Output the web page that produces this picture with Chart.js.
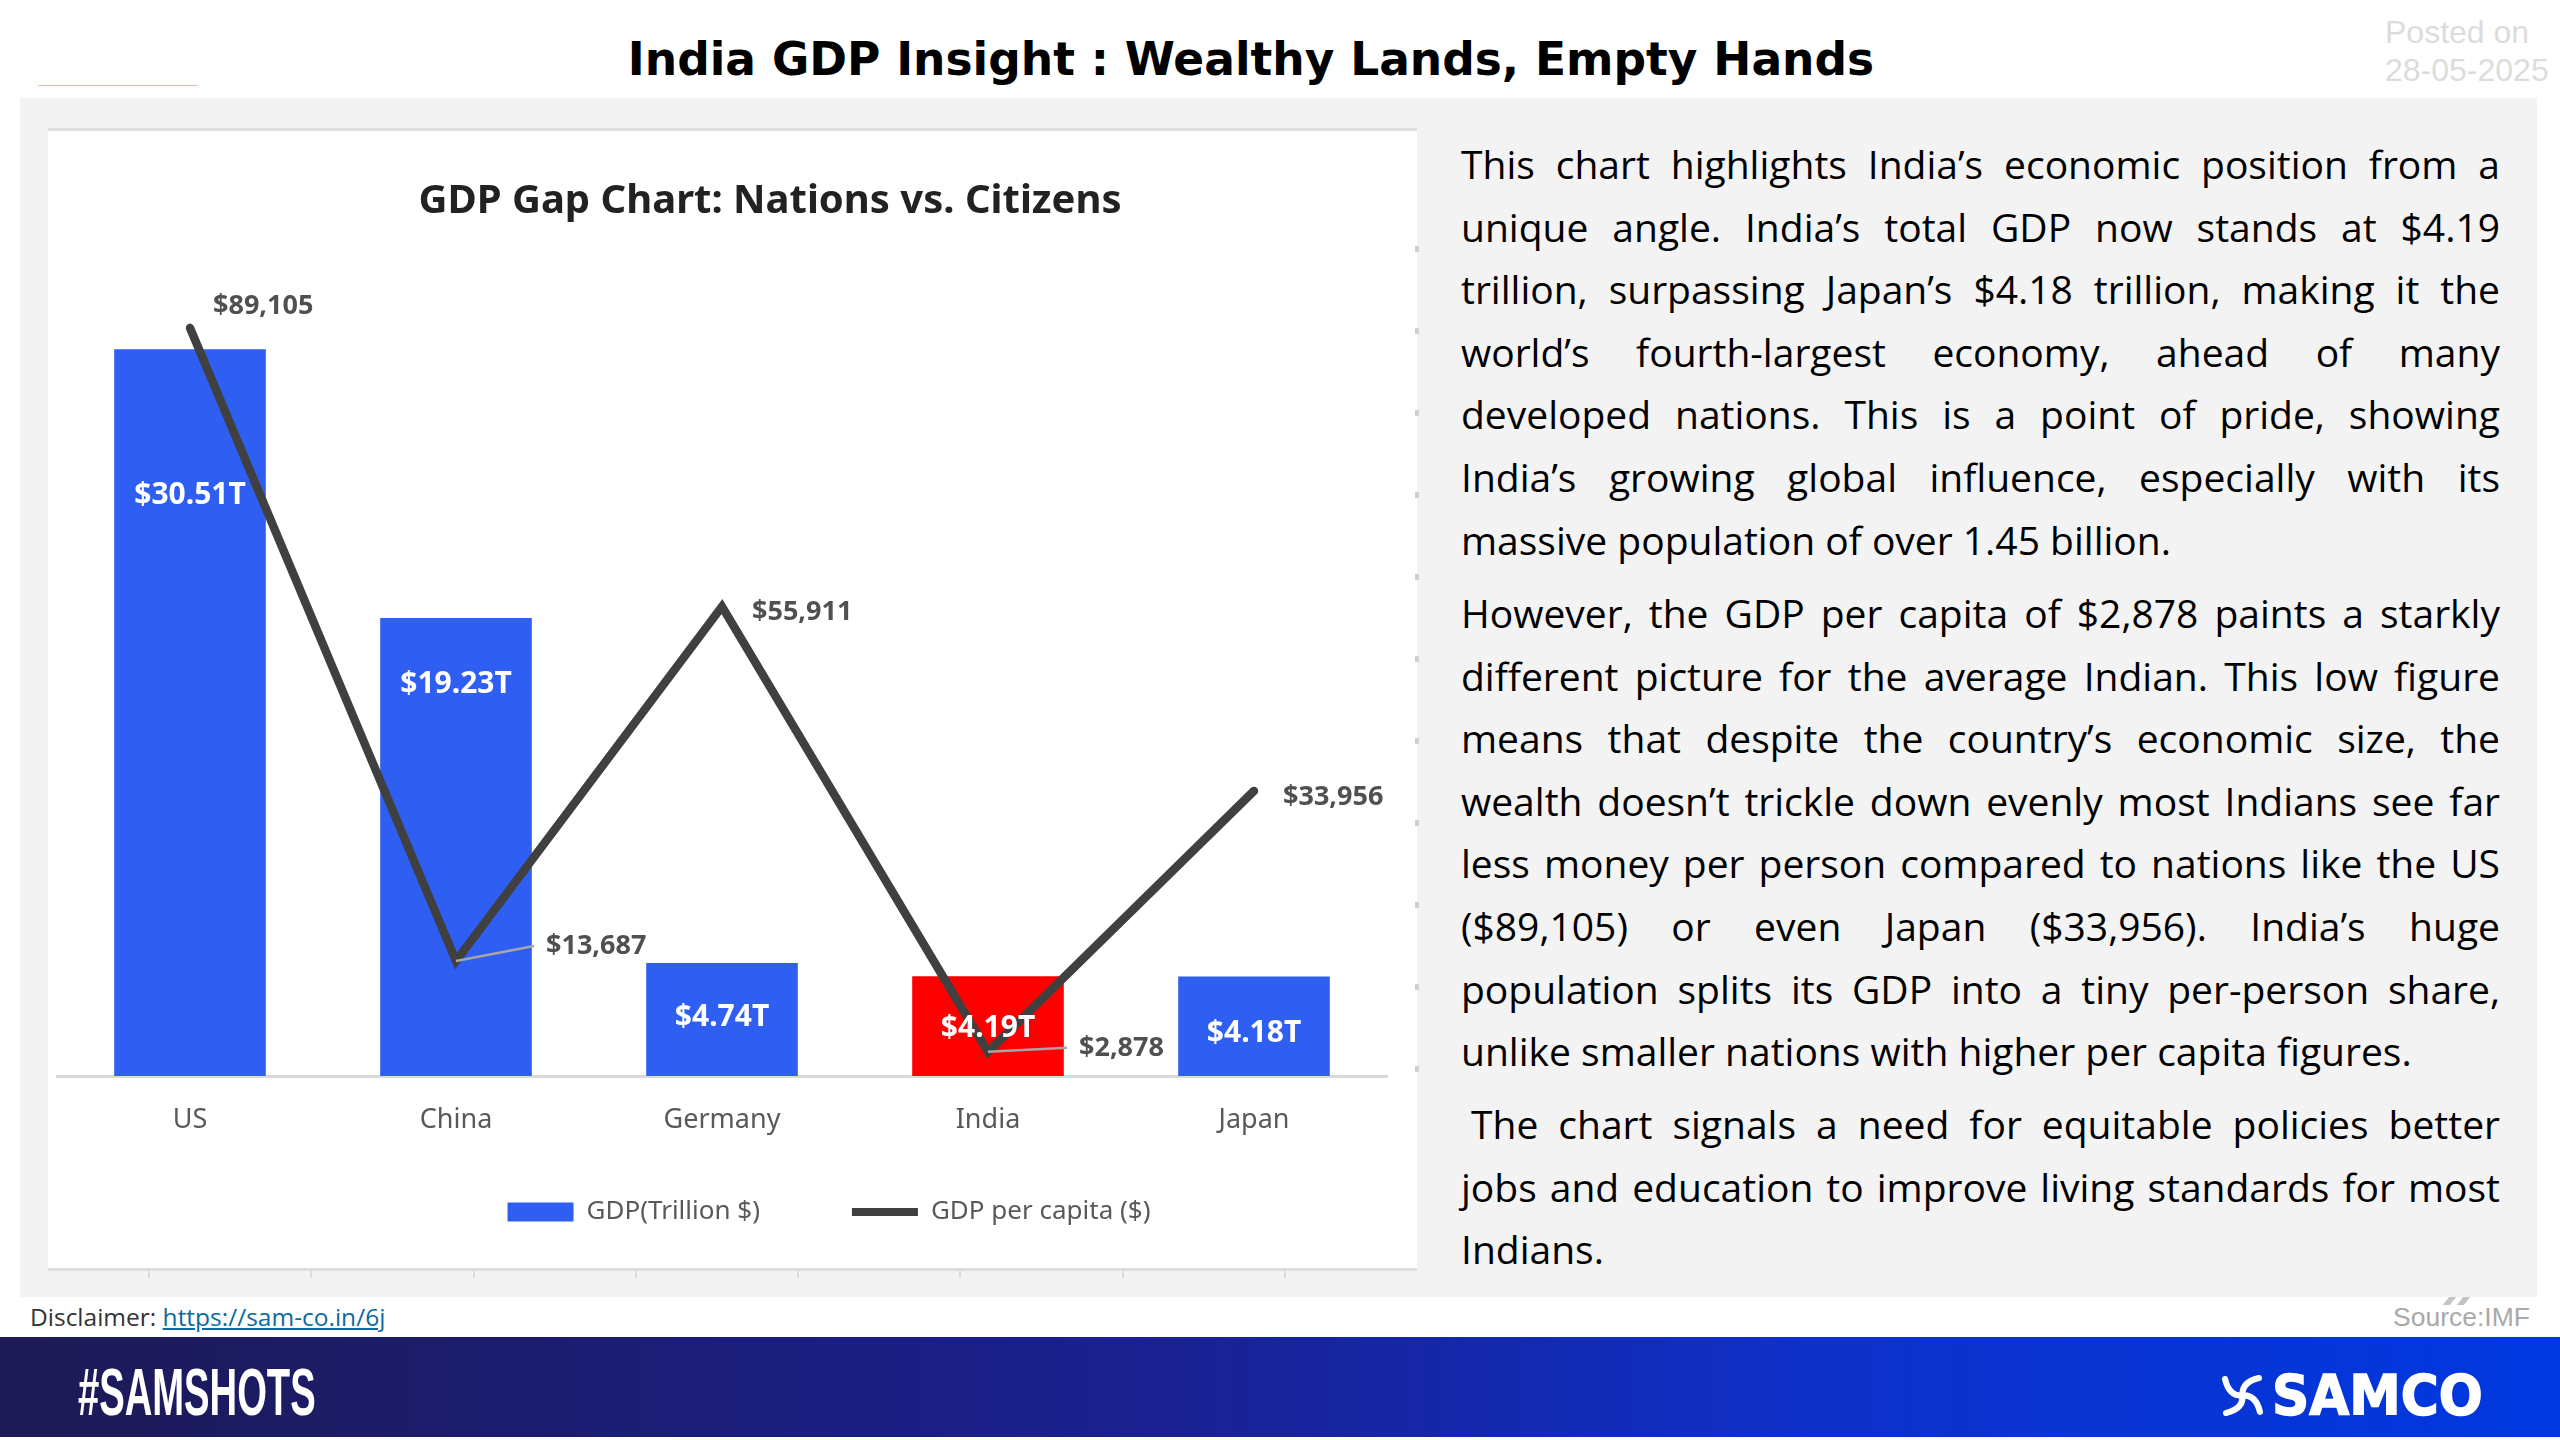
<!DOCTYPE html>
<html>
<head>
<meta charset="utf-8">
<title>India GDP Insight</title>
<script src="https://cdn.jsdelivr.net/npm/chart.js@4"></script>
<style>
    html, body { margin: 0; padding: 0; background: #fff; }
    #page { position: relative; width: 2560px; height: 1440px; overflow: hidden; font-family: "Liberation Sans", sans-serif; }
    #page > * { position: absolute; }
    #headline { left: 0; width: 2502px; top: 30px; text-align: center; font: bold 45.5px/60px "DejaVu Sans", sans-serif; color: #000; }
    #redline { left: 38px; top: 85px; width: 160px; height: 1px; background: #f6b5a8; }
    #posted { left: 2385px; top: 13px; font-size: 32px; line-height: 38px; color: #dcdcdc; white-space: nowrap; }
    #panel { left: 20px; top: 98px; width: 2517px; height: 1199px; background: #f3f3f3; }
    #chartbox { left: 48px; top: 128px; width: 1369px; height: 1143px; background: #fff; border-top: 3px solid #dedede; border-bottom: 3px solid #dedede; box-sizing: border-box; }
    #bottomticks { left: 148px; top: 1271px; width: 1160px; height: 7px; background: repeating-linear-gradient(90deg, #dcdcdc 0 2px, transparent 2px 162.3px); }
    #sideticks { left: 1415px; top: 246px; width: 4px; height: 830px; background: repeating-linear-gradient(180deg, #d0d0d0 0 6px, transparent 6px 82px); }
    canvas { left: 48px; top: 128px; }
    .para { left: 1461px; width: 1039px; font: 39px/62.6px "Open Sans", sans-serif; color: #000; }
    .para span { display: block; text-align: justify; text-align-last: justify; white-space: nowrap; }
    .para span.end { text-align-last: left; }
    #disclaimer { left: 30px; top: 1302px; font: 24.5px/30px "Open Sans", sans-serif; color: #333; white-space: nowrap; }
    #disclaimer a { color: #0b6aa0; text-decoration: underline; }
    #source { left: 2393px; top: 1302px; font-size: 26.5px; line-height: 30px; color: #a9a9a9; white-space: nowrap; }
    .quote { top: 1297px; width: 7px; height: 8px; background: #c4c4c4; transform: skewX(-38deg); }
    #footer { left: 0; top: 1337px; width: 2560px; height: 100px; background: linear-gradient(90deg, #1d1a55 0%, #1a2090 45%, #0f30c8 70%, #0038e0 100%); }
    #tag { left: 78px; top: 1352px; font: bold 67px/80px "Liberation Sans", sans-serif; color: #fff; transform-origin: left center; transform: scaleX(0.57); white-space: nowrap; }
    #brand { left: 2272px; top: 1360px; font: bold 55px/70px "DejaVu Sans", sans-serif; color: #fff; -webkit-text-stroke: 1.5px #fff; transform-origin: left center; transform: scaleX(0.94); white-space: nowrap; }
    #mark { left: 2222px; top: 1375px; }
</style>
</head>
<body>
<div id="page">
    <div id="headline">India GDP Insight : Wealthy Lands, Empty Hands</div>
    <div id="redline"></div>
    <div id="posted">Posted on<br>28-05-2025</div>
    <div id="panel"></div>
    <div id="chartbox"></div>
    <div id="bottomticks"></div>
    <div id="sideticks"></div>
    <canvas id="gdp-chart" width="1369" height="1107"></canvas>

    <div class="para" style="top:133px">
        <span>This chart highlights India’s economic position from a</span>
        <span>unique angle. India’s total GDP now stands at $4.19</span>
        <span>trillion, surpassing Japan’s $4.18 trillion, making it the</span>
        <span>world’s fourth-largest economy, ahead of many</span>
        <span>developed nations. This is a point of pride, showing</span>
        <span>India’s growing global influence, especially with its</span>
        <span class="end">massive population of over 1.45 billion.</span>
    </div>
    <div class="para" style="top:582px">
        <span>However, the GDP per capita of $2,878 paints a starkly</span>
        <span>different picture for the average Indian. This low figure</span>
        <span>means that despite the country’s economic size, the</span>
        <span>wealth doesn’t trickle down evenly most Indians see far</span>
        <span>less money per person compared to nations like the US</span>
        <span>($89,105) or even Japan ($33,956). India’s huge</span>
        <span>population splits its GDP into a tiny per-person share,</span>
        <span class="end">unlike smaller nations with higher per capita figures.</span>
    </div>
    <div class="para" style="top:1093px">
        <span style="padding-left:10px">The chart signals a need for equitable policies better</span>
        <span>jobs and education to improve living standards for most</span>
        <span class="end">Indians.</span>
    </div>

    <div id="disclaimer">Disclaimer: <a>https://sam-co.in/6j</a></div>
    <div class="quote" style="left:2446px"></div>
    <div class="quote" style="left:2460px"></div>
    <div id="source">Source:IMF</div>
    <div id="footer"></div>
    <div id="tag">#SAMSHOTS</div>
    <svg id="mark" width="41" height="41" viewBox="0 0 40 40" fill="none" stroke="#fff" stroke-width="6" stroke-linecap="round">
        <path d="M20 20 Q7 21 3 4"/>
        <path d="M20 20 Q7 21 3 4" transform="rotate(90 20 20)"/>
        <path d="M20 20 Q7 21 3 4" transform="rotate(180 20 20)"/>
        <path d="M20 20 Q7 21 3 4" transform="rotate(270 20 20)"/>
    </svg>
    <div id="brand">SAMCO</div>
</div>

<script>
// Values
const categories = ['US', 'China', 'Germany', 'India', 'Japan'];
const gdpTrillions = [30.51, 19.23, 4.74, 4.19, 4.18];
const gdpPerCapita = [89105, 13687, 55911, 2878, 33956];
const gdpLabels = ['$30.51T', '$19.23T', '$4.74T', '$4.19T', '$4.18T'];
const perCapitaLabels = ['$89,105', '$13,687', '$55,911', '$2,878', '$33,956'];
const highlighted = 'India';

// Label placement relative to the drawn bar / point, in px
const barLabelLift = [217, 163, 2, -2, -7];
const pointLabelShift = [[23, -22], [90, -15], [30, 6], [91, -4], [29, 6]];
const withLeader = ['China', 'India'];

// Title and legend sit off centre in the original
const titleShift = 48;
const legendShift = 107;

const labelsPlugin = {
    id: 'valueLabels',
    afterLayout(chart) {
        chart.titleBlock.left += titleShift;
        chart.titleBlock.right += titleShift;
        chart.legend.left += legendShift;
        chart.legend.right += legendShift;
        // tick labels are clipped to the scale box, so give them room again
        chart.scales.x.bottom = chart.scales.x.top + 90;
    },
    afterDatasetsDraw(chart) {
        const ctx = chart.ctx;
        const bars = chart.getDatasetMeta(0).data;
        const points = chart.getDatasetMeta(1).data;
        ctx.save();
        ctx.textBaseline = 'middle';

        ctx.font = 'bold 30px "Noto Sans"';
        ctx.fillStyle = '#ffffff';
        ctx.textAlign = 'center';
        bars.forEach((bar, i) => {
            ctx.fillText(gdpLabels[i], bar.x, (bar.y + bar.base) / 2 - barLabelLift[i]);
        });

        ctx.font = 'bold 27px "Noto Sans"';
        ctx.textAlign = 'left';
        points.forEach((point, i) => {
            const [dx, dy] = pointLabelShift[i];
            if (withLeader.includes(categories[i])) {
                ctx.strokeStyle = '#a6a6a6';
                ctx.lineWidth = 2.5;
                ctx.beginPath();
                ctx.moveTo(point.x, point.y);
                ctx.lineTo(point.x + dx - 12, point.y + dy);
                ctx.stroke();
            }
            ctx.fillStyle = '#505050';
            ctx.fillText(perCapitaLabels[i], point.x + dx, point.y + dy);
        });
        ctx.restore();
    }
};

function createGdpChart() {
    const ctx = document.getElementById('gdp-chart');
    if (!ctx) return;

    new Chart(ctx, {
        type: 'bar',
        data: {
            labels: categories,
            datasets: [
                {
                    label: 'GDP(Trillion $)',
                    data: gdpTrillions,
                    yAxisID: 'y',
                    order: 2,
                    backgroundColor: categories.map(c => c === highlighted ? '#ff0000' : '#2f5ff2'),
                    categoryPercentage: 1,
                    barPercentage: 0.57
                },
                {
                    type: 'line',
                    label: 'GDP per capita ($)',
                    data: gdpPerCapita,
                    yAxisID: 'y2',
                    order: 1,
                    borderColor: '#404040',
                    backgroundColor: '#404040',
                    borderWidth: 8.5,
                    borderCapStyle: 'round',
                    borderJoinStyle: 'miter',
                    pointRadius: 0,
                    tension: 0
                }
            ]
        },
        options: {
            responsive: false,
            animation: false,
            devicePixelRatio: 1,
            layout: { padding: { left: 9, right: 30, top: 0, bottom: 0 } },
            scales: {
                x: {
                    offset: true,
                    grid: { display: false },
                    border: { color: '#d9d9d9', width: 3 },
                    ticks: {
                        padding: 20,
                        color: '#595959',
                        font: { family: '"Noto Sans"', size: 27 }
                    },
                    afterFit(scale) { scale.height = 31; }
                },
                y: { display: false, min: 0, max: 35.6 },
                y2: { display: false, min: 0, max: 101000 }
            },
            plugins: {
                title: {
                    display: true,
                    text: 'GDP Gap Chart: Nations vs. Citizens',
                    color: '#222222',
                    font: { family: '"Noto Sans"', size: 40, weight: 'bold' },
                    padding: { top: 50, bottom: 2 }
                },
                legend: {
                    position: 'bottom',
                    labels: {
                        usePointStyle: true,
                        pointStyleWidth: 66,
                        boxHeight: 19,
                        padding: 92,
                        color: '#595959',
                        font: { family: '"Noto Sans"', size: 26 },
                        sort: (a, b) => a.datasetIndex - b.datasetIndex,
                        generateLabels(chart) {
                            const items = Chart.defaults.plugins.legend.labels.generateLabels(chart);
                            items.forEach(item => {
                                if (item.datasetIndex === 0) {
                                    item.pointStyle = 'rect';
                                    item.fillStyle = '#2f5ff2';
                                    item.lineWidth = 0;
                                } else {
                                    item.pointStyle = 'line';
                                    item.strokeStyle = '#404040';
                                    item.lineWidth = 8;
                                }
                            });
                            return items;
                        }
                    }
                },
                tooltip: { enabled: false }
            }
        },
        plugins: [labelsPlugin]
    });
}

createGdpChart();
</script>
</body>
</html>
